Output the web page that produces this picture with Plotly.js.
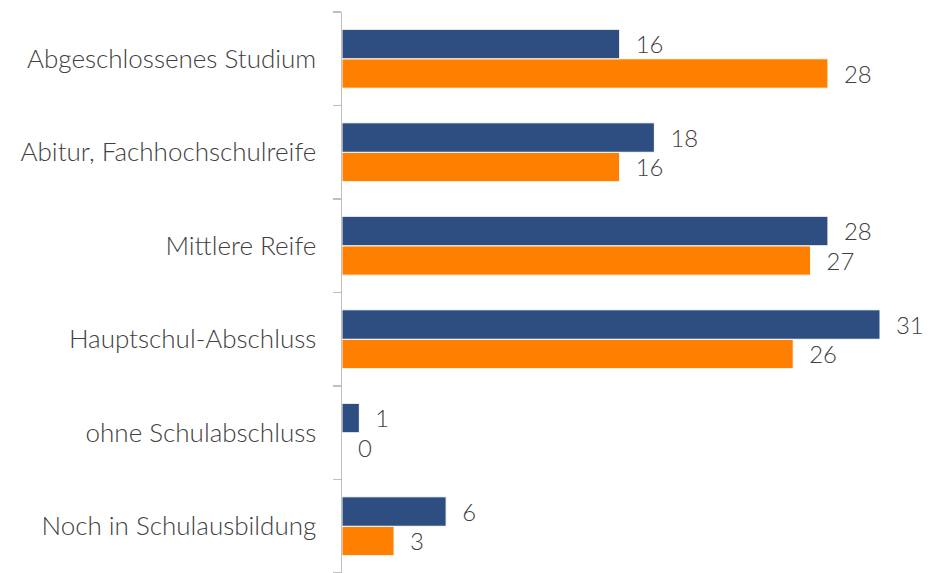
<!DOCTYPE html>
<html><head><meta charset="utf-8">
<script src="https://cdn.plot.ly/plotly-3.0.1.min.js"></script>
<style>html,body{margin:0;padding:0;background:#fff}#chart{width:929px;height:573px}</style>
</head><body><div id="chart"></div>
<script>
const categories = ["Abgeschlossenes Studium", "Abitur, Fachhochschulreife", "Mittlere Reife", "Hauptschul-Abschluss", "ohne Schulabschluss", "Noch in Schulausbildung"];
const seriesBlue = [16, 18, 28, 31, 1, 6];
const seriesOrange = [28, 16, 27, 26, 0, 3];

const cats = categories.slice().reverse();
const blue = seriesBlue.slice().reverse();
const orange = seriesOrange.slice().reverse();
const pad = '\u00a0\u00a0';
const txtFont = {family: 'Lato, sans-serif', size: 26, color: '#404040', weight: 300};

const traces = [
  {type: 'bar', orientation: 'h', y: cats, x: orange, name: 'B',
   marker: {color: '#FF7F00', line: {color: '#ffffff', width: 1}},
   text: orange.map(v => pad + v), textposition: 'outside', cliponaxis: false,
   textfont: txtFont, hoverinfo: 'x'},
  {type: 'bar', orientation: 'h', y: cats, x: blue, name: 'A',
   marker: {color: '#2E4E82', line: {color: '#ffffff', width: 1}},
   text: blue.map(v => pad + v), textposition: 'outside', cliponaxis: false,
   textfont: txtFont, hoverinfo: 'x'}
];

const layout = {
  width: 929, height: 573,
  margin: {l: 342, r: 49, t: 12, b: 0},
  barmode: 'group', bargap: 0.37, bargroupgap: 0,
  showlegend: false,
  paper_bgcolor: '#fff', plot_bgcolor: '#fff',
  font: {family: 'Lato, sans-serif', color: '#404040'},
  xaxis: {range: [0, 31], visible: false, fixedrange: true},
  yaxis: {type: 'category', showline: true, linecolor: '#BFBFBF', linewidth: 1.5,
          ticks: 'outside', tickson: 'boundaries', ticklen: 8, tickcolor: '#BFBFBF', tickwidth: 1.5,
          showgrid: false, zeroline: false, ticklabelstandoff: 19,
          tickfont: {family: 'Lato, sans-serif', size: 26, color: '#404040', weight: 300}}
};
Plotly.newPlot('chart', traces, layout, {displayModeBar: false, staticPlot: true});
</script></body></html>
